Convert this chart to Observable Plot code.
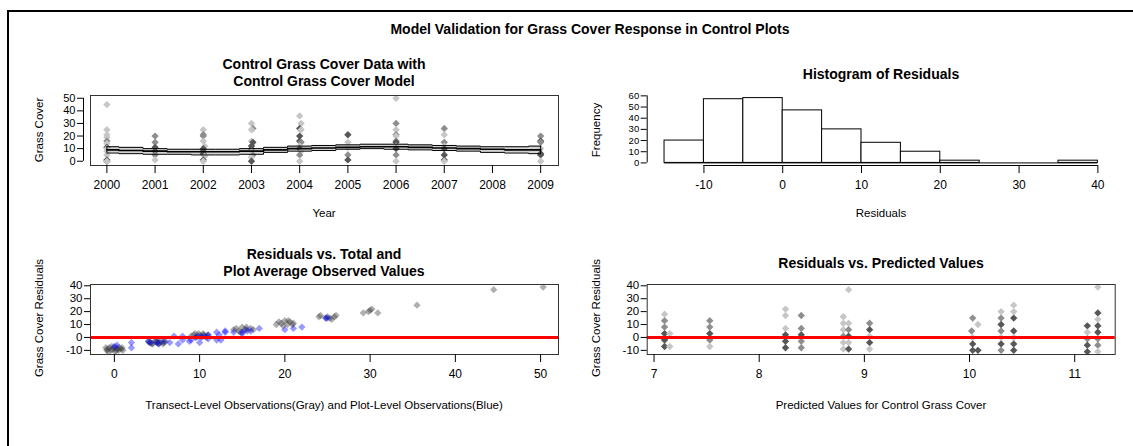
<!DOCTYPE html>
<html><head><meta charset="utf-8">
<script src="https://cdn.jsdelivr.net/npm/d3@7"></script>
<script src="https://cdn.jsdelivr.net/npm/@observablehq/plot@0.6"></script>
<style>
body{margin:0;background:#fff;font-family:"Liberation Sans",Arial,sans-serif;}
#root{position:relative;width:1133px;height:446px;overflow:hidden;background:#fff;}
.frame{position:absolute;left:7px;top:10px;width:1200px;height:500px;border:2px solid #000;box-sizing:border-box;}
.t{position:absolute;white-space:nowrap;color:#000;line-height:1;}
.title{font-weight:bold;font-size:14px;transform:translate(-50%,-50%);}
.main{font-weight:bold;font-size:14px;transform:translate(-50%,-50%);}
.lab{font-size:11.5px;transform:translate(-50%,-50%);}
.ylab{font-size:11.5px;transform:translate(-50%,-50%) rotate(-90deg);}
.panel{position:absolute;}
</style></head><body><div id="root"><div class="frame"></div></div>
<script>
// ---------- Panel 1: grass cover by year ----------
const yearTicks = [2000,2001,2002,2003,2004,2005,2006,2007,2008,2009];
const coverTicks = [0,10,20,30,40,50];
const p1Year  = [2000,2000,2000,2000,2000,2000,2000,2000,2000,2000,2000,2000,2000,
                 2001,2001,2001,2001,2001,2001,
                 2002,2002,2002,2002,2002.03,2002,2002,2002,2002.03,2002,2002,
                 2003,2003.03,2003,2003,2003.03,2003,2003,2003,2003.03,2003,2003,
                 2004,2004.03,2004,2004.03,2004,2004,2004.03,2004,2004,2004.03,2004,2004,
                 2005,2005,2005,2005,2005,
                 2006,2006,2006,2006,2006,2006,2006,2006,2006,2006,2006,
                 2007,2007,2007,2007,2007,2007,2007,2007,
                 2009,2009,2009,2009,2009,2009,2009];
const p1Cover = [45,25,21,19,16,14,11,10,8,5,1,0,0,
                 20,15,11,8,5,1,
                 25,21,20,16,12,10,8,6,4,1,0,
                 30,26,25,16,15,12,10,8,5,3,0,
                 36,30,26,25,20,16,15,12,10,8,5,0,
                 21,15,11,5,1,
                 50,30,25,21,20,16,15,12,10,5,0,
                 26,21,15,12,10,5,1,0,
                 20,16,15,10,6,5,0];
const p1Tone  = ["L","L","L","L","M","L","D","L","L","L","D","D","L",
                 "M","M","D","D","M","L",
                 "L","M","M","L","L","D","D","D","L","D","L",
                 "L","M","L","L","D","D","D","L","M","L","D",
                 "L","L","D","L","D","D","M","L","D","L","M","L",
                 "D","L","L","M","D",
                 "L","M","L","M","L","M","D","L","D","M","L",
                 "M","L","M","L","D","D","D","L",
                 "M","D","M","L","D","D","L"];
// model fit and interval
const modelYear = [2000,2000.5,2001,2001.5,2002,2002.5,2003,2003.5,2004,2004.5,2005,2005.5,2006,2006.5,2007,2007.5,2008,2008.5,2009];
const modelMean = [9,8.5,8,7.5,7.5,7.5,8,9,10,10.5,11,11.5,11.5,11,10.5,10,9.5,9,9];
const modelHi   = [11.5,11,10,9.5,9.5,9.5,10,11,12,12.5,13,13.5,13.5,13,12.5,12,11.5,11.5,12];
const modelLo   = [6.5,6,5.5,5.5,5,5,5.5,7,8,8.5,9.5,10,9.5,9,8.5,8,7,6.5,6];

// ---------- Panel 2: histogram ----------
const binEdges = [-15,-10,-5,0,5,10,15,20,25,30,35,40];
const binCounts = [20,57,58,47,30,18,10,2,0,0,2];
const histXTicks = [-10,0,10,20,30,40];
const freqTicks = [0,10,20,30,40,50,60];

// ---------- Panel 3: residuals vs observed ----------
const obsTicks = [0,10,20,30,40,50];
const residTicks = [-10,0,10,20,30,40];
const grayObs = [-1.0,-0.8,-0.6,-0.4,-0.2,0,0.2,0.4,0.6,0.8,1.0,-0.7,-0.3,0.1,0.5,0.9,-0.9,0.3,
  4.0,4.2,4.5,4.8,5.0,5.2,5.5,5.8,6.0,4.4,4.9,5.3,5.7,4.1,5.1,
  9.0,9.3,9.6,9.9,10.2,10.5,10.8,11.0,9.5,10.0,10.4,10.9,
  14.0,14.3,14.6,15.0,15.3,15.6,16.0,16.3,14.8,15.5,
  19.0,19.3,19.6,20.0,20.3,20.6,21.0,19.8,20.4,20.9,
  24.0,24.2,24.8,25.0,25.3,25.8,26.0,25.5,
  29.2,29.8,30.2,30.9,30.0,
  35.5,44.5,50.3];
const grayRes = [-8,-9,-8,-10,-9,-8,-10,-9,-8,-9,-10,-11,-7,-11,-10,-8,-10,-8,
  -3,-4,-5,-3,-4,-5,-3,-4,-3,-5,-2,-4,-5,-4,-3,
  1,2,0,3,1,2,0,2,3,1,3,1,
  6,7,5,8,6,5,7,6,4,8,
  10,12,11,13,10,12,11,9,13,10,
  16,17,15,16,15,16,17,14,
  19,20,22,19,21,
  25,37,39];
const blueObs = [0,0.3,2,2,4,4.3,5,5.2,5.8,6.5,7,7.5,8,8,8.8,9,9.5,9.8,10,10.2,10.5,11,11,12,12,12.3,12.5,13,13,14,15,15,15.5,16,17,20,21,22,25,24.8];
const blueRes = [-7,-6,-4,-8,-3,-4,-4,-5,-3,-4,1,-5,-2,1,-3,-2,0,1,-4,0,1,-1,2,-2,4,2,-2,4,5,4,4,3,6,5,7,6,7,8,15,15];

// ---------- Panel 4: residuals vs predicted ----------
const predTicks = [7,8,9,10,11];
const predX = [7.1,7.1,7.1,7.1,7.1,7.1,7.1,7.15,7.15,
  7.53,7.53,7.53,7.53,7.53,
  8.25,8.25,8.25,8.25,8.25,8.25,
  8.4,8.4,8.4,8.4,8.4,
  8.8,8.8,8.8,8.8,8.8,8.8,
  8.85,8.85,8.85,8.85,8.85,8.85,
  9.05,9.05,9.05,9.05,9.05,
  10.03,10.02,10.03,10.03,10.03,10.08,10.08,
  10.3,10.3,10.3,10.3,10.3,10.3,10.3,
  10.42,10.42,10.42,10.42,10.42,10.42,10.42,
  11.12,11.12,11.12,11.12,11.12,
  11.22,11.22,11.22,11.22,11.22,11.22,11.22,11.22];
const predRes = [18,13,8,3,-1,-2,-7,3,-7,
  13,8,3,-2,-7,
  22,17,7,2,-3,-8,
  17,7,2,-3,-8,
  16,11,6,1,-4,-9,
  37,11,6,1,-4,-9,
  11,6,1,-4,-9,
  15,5,0,-5,-10,10,-10,
  20,15,10,5,0,-5,-10,
  25,20,15,5,0,-5,-10,
  9,4,-1,-6,-11,
  39,19,14,9,4,-1,-6,-11];
const predTone = ["L","M","M","D","D","D","D","L","L",
  "M","M","D","M","L",
  "L","L","L","D","D","D",
  "M","M","D","M","M",
  "L","L","L","M","L","L",
  "L","L","M","D","L","D",
  "M","D","L","D","L",
  "M","M","L","D","D","L","D",
  "L","M","D","M","L","D","M",
  "L","L","D","D","L","D","D",
  "D","L","M","D","D",
  "L","D","L","D","D","M","M","L"];

// ---------- helpers ----------
const toneFill = {L:"#c6c6c6", M:"#8e8e8e", D:"#575757"};
const font = "'Liberation Sans', Arial, sans-serif";
const root = document.getElementById("root");
function place(el, left, top){ el.classList.add("panel"); el.style.left=left+"px"; el.style.top=top+"px"; root.appendChild(el); }
function text(str, cls, x, y){ const d=document.createElement("div"); d.className="t "+cls; d.textContent=str; d.style.left=x+"px"; d.style.top=y+"px"; root.appendChild(d); }
const baseStyle = {fontFamily: font, fontSize: "12px", color: "#000", background: "transparent", overflow: "visible"};
const fmt = d => String(d);

const p1 = p1Year.map((x,i)=>({x, y:p1Cover[i], tone:p1Tone[i]}));
const model = modelYear.map((x,i)=>({x, mean:modelMean[i], hi:modelHi[i], lo:modelLo[i]}));
const bins = binCounts.map((n,i)=>({x1:binEdges[i], x2:binEdges[i+1], n}));
const gray3 = grayObs.map((x,i)=>({x, y:grayRes[i]}));
const blue3 = blueObs.map((x,i)=>({x, y:blueRes[i]}));
const p4 = predX.map((x,i)=>({x, y:predRes[i], tone:predTone[i]}));

// geometry shared
const W1 = 566, W2 = 567, H = 115;
const dotOpts = {symbol:"diamond2", r:3.3, stroke:null};
const axX = t => Plot.axisX({ticks:t, tickFormat:fmt, tickSize:8, tickPadding:7, label:null, fontSize:12});
const axY = (t, o={}) => Plot.axisY({ticks:t, tickFormat:fmt, tickSize:6, tickPadding:2, label:null, fontSize:11.5, ...o});

// Panel 1
const x1Dom = [1999.66, 2009.37], y1Dom = [-3.4, 52.2];
const svg1 = Plot.plot({
  width:W1, height:H, marginLeft:90, marginRight:8, marginTop:10, marginBottom:35,
  x:{domain:x1Dom}, y:{domain:y1Dom}, style:baseStyle,
  marks:[
    Plot.areaY(model, {x:"x", y1:"lo", y2:"hi", curve:"step", fill:"#d2d2d2"}),
    Plot.dot(p1, {x:"x", y:"y", fill:d=>toneFill[d.tone], ...dotOpts}),
    Plot.lineY(model, {x:"x", y:"hi", curve:"step", stroke:"#000", strokeWidth:1}),
    Plot.lineY(model, {x:"x", y:"lo", curve:"step", stroke:"#000", strokeWidth:1}),
    Plot.lineY(model, {x:"x", y:"mean", curve:"step", stroke:"#000", strokeWidth:1.6}),
    Plot.ruleX([model[0], model[model.length-1]], {x:"x", y1:"lo", y2:"hi", stroke:"#000"}),
    Plot.frame({stroke:"#333"}),
    axX(yearTicks),
    axY(coverTicks, {dx:-7, fontSize:11}),
    Plot.ruleX([x1Dom[0]], {y1:coverTicks[0], y2:coverTicks[coverTicks.length-1], dx:-7, stroke:"#000"})
  ]
});
place(svg1, 0, 85);

// Panel 2
const x2Dom = [-17.2, 42.2], y2Dom = [-2.32, 60.32];
const svg2 = Plot.plot({
  width:W2, height:H, marginLeft:80.7, marginRight:18.3, marginTop:10, marginBottom:35,
  x:{domain:x2Dom}, y:{domain:y2Dom}, style:baseStyle,
  marks:[
    Plot.rect(bins, {x1:"x1", x2:"x2", y1:0, y2:"n", fill:"#fff", stroke:"#000", strokeWidth:1}),
    Plot.ruleY(bins, {x1:"x1", x2:"x2", y:0, stroke:"#000"}),
    axX(histXTicks),
    Plot.ruleY([y2Dom[0]], {x1:histXTicks[0], x2:histXTicks[histXTicks.length-1], stroke:"#000"}),
    axY(freqTicks, {fontSize:9.5}),
    Plot.ruleX([x2Dom[0]], {y1:freqTicks[0], y2:freqTicks[freqTicks.length-1], stroke:"#000"})
  ]
});
place(svg2, 566, 85);

// Panel 3
const x3Dom = [-2.8, 52.1], yRDom = [-13.2, 41.0];
const svg3 = Plot.plot({
  width:W1, height:H, marginLeft:90, marginRight:8, marginTop:10, marginBottom:35,
  x:{domain:x3Dom}, y:{domain:yRDom}, style:baseStyle,
  marks:[
    Plot.dot(gray3, {x:"x", y:"y", fill:"#3a3a3a", fillOpacity:0.4, ...dotOpts}),
    Plot.dot(blue3, {x:"x", y:"y", fill:"#0000ff", fillOpacity:0.4, ...dotOpts}),
    Plot.ruleY([0], {stroke:"#ff0000", strokeWidth:3}),
    Plot.frame({stroke:"#333"}),
    axX(obsTicks),
    axY(residTicks)
  ]
});
place(svg3, 0, 274);

// Panel 4
const x4Dom = [6.935, 11.385];
const svg4 = Plot.plot({
  width:W2, height:H, marginLeft:80.7, marginRight:18.3, marginTop:10, marginBottom:35,
  x:{domain:x4Dom}, y:{domain:yRDom}, style:baseStyle,
  marks:[
    Plot.dot(p4, {x:"x", y:"y", fill:d=>toneFill[d.tone], ...dotOpts}),
    Plot.ruleY([0], {stroke:"#ff0000", strokeWidth:3}),
    Plot.frame({stroke:"#333"}),
    axX(predTicks),
    axY(residTicks)
  ]
});
place(svg4, 566, 274);

// Texts
text("Model Validation for Grass Cover Response in Control Plots", "main", 590, 29);
text("Control Grass Cover Data with", "title", 324, 64);
text("Control Grass Cover Model", "title", 324, 81);
text("Histogram of Residuals", "title", 881, 74);
text("Residuals vs. Total and", "title", 324, 254);
text("Plot Average Observed Values", "title", 324, 271);
text("Residuals vs. Predicted Values", "title", 881, 263);
text("Year", "lab", 324, 214);
text("Residuals", "lab", 881, 214);
text("Transect-Level Observations(Gray) and Plot-Level Observations(Blue)", "lab", 324, 406);
text("Predicted Values for Control Grass Cover", "lab", 881, 406);
text("Grass Cover", "ylab", 40, 130);
text("Frequency", "ylab", 597, 130);
text("Grass Cover Residuals", "ylab", 40, 318);
text("Grass Cover Residuals", "ylab", 597, 318);
</script></body></html>
